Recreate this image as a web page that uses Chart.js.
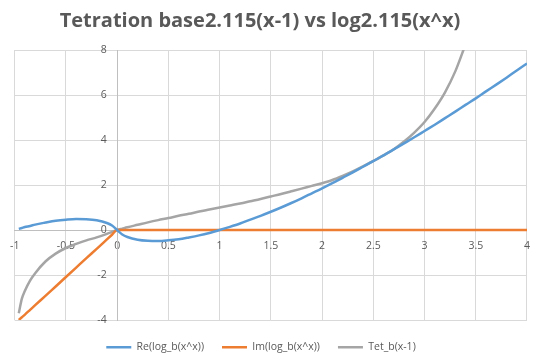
<!DOCTYPE html>
<html>
<head>
<meta charset="utf-8">
<script src="https://cdn.jsdelivr.net/npm/chart.js@4.4.1/dist/chart.umd.min.js"></script>
<style>
  html, body { margin: 0; padding: 0; background: #ffffff; }
  #wrap { width: 540px; height: 359px; }
</style>
</head>
<body>
<div id="wrap"><canvas id="chart"></canvas></div>
<script>
// values
const chartTitle = 'Tetration base2.115(x-1) vs log2.115(x^x)';
const seriesNames = ['Re(log_b(x^x))', 'Im(log_b(x^x))', 'Tet_b(x-1)'];
const seriesColors = ['#5B9BD5', '#ED7D31', '#A5A5A5'];

const xValues = [-0.96, -0.93, -0.9, -0.85, -0.8, -0.7, -0.6, -0.5, -0.4, -0.3, -0.2, -0.1, -0.05,
    0, 0.05, 0.1, 0.2, 0.3, 0.4, 0.5, 0.6, 0.7, 0.8, 0.9, 1.0,
    1.1, 1.2, 1.3, 1.4, 1.5, 1.6, 1.7, 1.8, 1.9, 2.0,
    2.1, 2.2, 2.3, 2.4, 2.5, 2.6, 2.7, 2.8, 2.9, 3.0,
    3.1, 3.2, 3.3, 3.4, 3.5, 3.6, 3.7, 3.8, 3.9, 4.0];

const reValues = [0.05, 0.09, 0.13, 0.18, 0.24, 0.33, 0.41, 0.46, 0.49, 0.48, 0.43, 0.31, 0.2,
    0, -0.2, -0.31, -0.43, -0.48, -0.49, -0.46, -0.41, -0.33, -0.24, -0.13, 0,
    0.14, 0.29, 0.46, 0.63, 0.81, 1.0, 1.2, 1.41, 1.63, 1.85,
    2.08, 2.32, 2.56, 2.81, 3.06, 3.32, 3.58, 3.85, 4.12, 4.4,
    4.68, 4.97, 5.26, 5.56, 5.85, 6.16, 6.46, 6.77, 7.09, 7.4];

const imValues = [-4.0, -3.88, -3.76, -3.55, -3.34, -2.93, -2.51, -2.09, -1.67, -1.25, -0.84, -0.42, -0.21,
    0, 0, 0, 0, 0, 0, 0, 0, 0, 0, 0, 0,
    0, 0, 0, 0, 0, 0, 0, 0, 0, 0,
    0, 0, 0, 0, 0, 0, 0, 0, 0, 0,
    0, 0, 0, 0, 0, 0, 0, 0, 0, 0];

const tetValues = [-3.7, -3.05, -2.7, -2.25, -1.92, -1.4, -1.05, -0.8, -0.62, -0.46, -0.33, -0.17, -0.08,
    0, 0.06, 0.12, 0.23, 0.34, 0.44, 0.53, 0.63, 0.72, 0.82, 0.91, 1.0,
    1.09, 1.18, 1.28, 1.38, 1.49, 1.6, 1.72, 1.84, 1.96, 2.08,
    2.22, 2.4, 2.6, 2.83, 3.07, 3.32, 3.59, 3.93, 4.33, 4.8,
    5.4, 6.12, 7.05, 8.25, null, null, null, null, null, null];

const xMin = -1, xMax = 4, xStep = 0.5;
const yMin = -4, yMax = 8, yStep = 2;

function toPoints(values) {
    return xValues.map((x, i) => ({ x: x, y: values[i] }));
}

function fmt(v) {
    return String(Math.round(v * 100) / 100);
}

const textColor = '#595959';
const gridColor = '#D9D9D9';
const tickFont = { family: 'Open Sans', size: 10.5 };

// Excel centres title and legend a little left of the canvas middle
function shiftBox(box, dx) {
    if (!box || box._shifted) return;
    const draw = box.draw;
    box.draw = function (area) {
        this.ctx.save();
        this.ctx.translate(dx, 0);
        draw.call(this, area);
        this.ctx.restore();
    };
    box._shifted = true;
}

// keep the legend strip as short as Excel's so the plot reaches down to y=320
const layoutTweaks = {
    id: 'layoutTweaks',
    beforeLayout(chart) {
        const legend = chart.legend;
        if (legend && !legend._fixedHeight) {
            const fit = legend.fit;
            legend.fit = function () {
                fit.call(this);
                this.height = 39;
            };
            legend._fixedHeight = true;
        }
        shiftBox(chart.legend, -8);
        shiftBox(chart.titleBlock, -9);
    }
};

const ctx = document.getElementById('chart').getContext('2d');

new Chart(ctx, {
    type: 'scatter',
    data: {
        datasets: [reValues, imValues, tetValues].map((vals, i) => ({
            label: seriesNames[i],
            data: toPoints(vals),
            showLine: true,
            borderColor: seriesColors[i],
            backgroundColor: seriesColors[i],
            borderWidth: 2.5,
            pointRadius: 0,
            pointHoverRadius: 0,
            cubicInterpolationMode: 'monotone',
            spanGaps: false
        }))
    },
    plugins: [layoutTweaks],
    options: {
        responsive: true,
        maintainAspectRatio: false,
        animation: false,
        layout: { padding: { left: 11, right: 13, top: 0, bottom: 0 } },
        plugins: {
            title: {
                display: true,
                text: chartTitle,
                color: textColor,
                font: { family: 'Open Sans', size: 20, weight: 'bold' },
                padding: { top: 9, bottom: 17 }
            },
            legend: {
                position: 'bottom',
                title: { display: true, text: '', font: { size: 1 }, padding: { top: 0, bottom: 2.8 } },
                labels: {
                    color: textColor,
                    font: { family: 'Open Sans', size: 10.5 },
                    usePointStyle: true,
                    pointStyle: 'line',
                    pointStyleWidth: 25,
                    padding: 18
                }
            },
            tooltip: { enabled: false }
        },
        scales: {
            x: {
                type: 'linear',
                position: { y: 0 },
                min: xMin,
                max: xMax,
                ticks: {
                    stepSize: xStep,
                    color: textColor,
                    font: tickFont,
                    padding: 10,
                    maxRotation: 0,
                    callback: v => fmt(v)
                },
                grid: { color: gridColor, drawTicks: false },
                border: { color: '#BFBFBF' }
            },
            y: {
                type: 'linear',
                position: { x: 0 },
                min: yMin,
                max: yMax,
                ticks: {
                    stepSize: yStep,
                    color: textColor,
                    font: tickFont,
                    // the label is right-aligned on the axis line, two en spaces push it off the line
                    callback: v => fmt(v) + '\u2002\u2002'
                },
                grid: { color: gridColor, drawTicks: false },
                border: { color: '#BFBFBF' }
            }
        }
    }
});
</script>
</body>
</html>
